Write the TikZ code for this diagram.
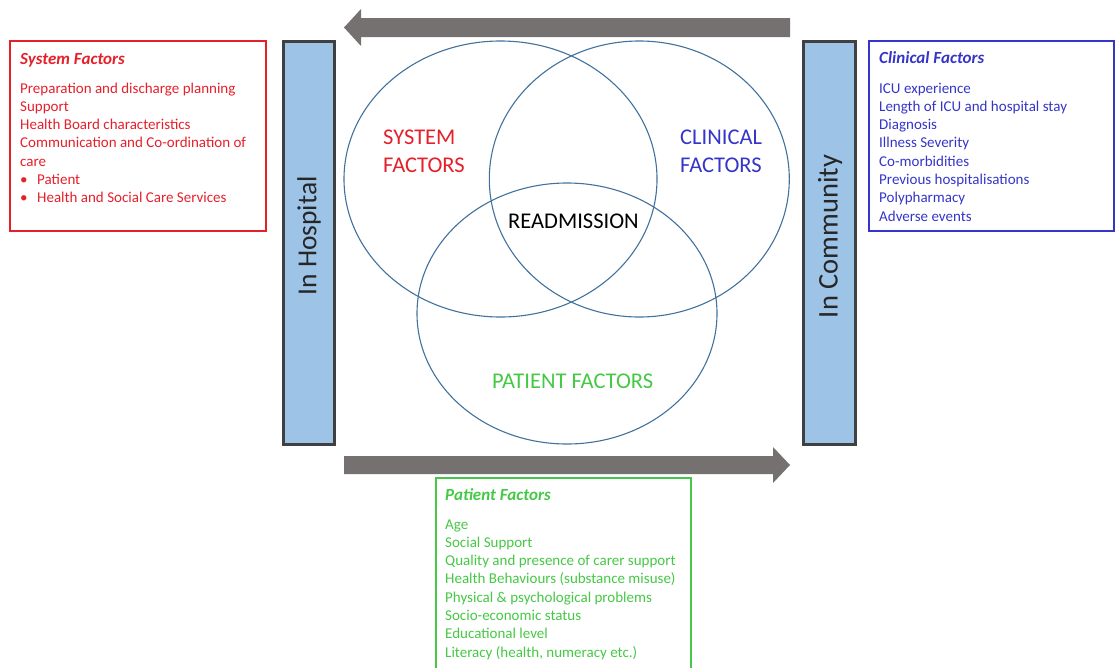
\documentclass[tikz,border=0pt]{standalone}
\usepackage{fontspec}
\setmainfont{Carlito}
\usetikzlibrary{shapes.geometric}
\definecolor{sysred}{HTML}{E5202A}
\definecolor{clinblue}{HTML}{3535C8}
\definecolor{patgreen}{HTML}{45C845}
\definecolor{arrowgray}{HTML}{767171}
\definecolor{barblue}{HTML}{9DC3E6}
\definecolor{bardark}{HTML}{404040}
\definecolor{vennline}{HTML}{41719C}
\begin{document}
\begin{tikzpicture}[x=1pt,y=-1pt,
  item/.style={anchor=base west,inner sep=0pt,font=\fontsize{15}{18}\selectfont},
  ttl/.style={anchor=base west,inner sep=0pt,font=\fontsize{17}{20}\selectfont\bfseries\itshape},
  frame/.style={draw,line width=2.2pt},
  bar/.style={draw=bardark,fill=barblue,line width=3pt},
  bartext/.style={rotate=90,inner sep=0pt,font=\fontsize{27.5}{30}\selectfont,text=black!85},
  venn/.style={draw=vennline,line width=1.1pt,ellipse,inner sep=0pt},
  venntext/.style={anchor=base west,inner sep=0pt,align=left,font=\fontsize{22.5}{28}\selectfont},
  blockarrow/.style={fill=arrowgray,draw=none}]
\useasboundingbox (0,0) rectangle (1115,667);
\clip (0,0) rectangle (1115,667);

% block arrows
\fill[blockarrow] (790,18) -- (361,18) -- (361,9) -- (344,27.5) -- (361,46) -- (361,37) -- (790,37) -- cycle;
\fill[blockarrow] (344,456) -- (773,456) -- (773,447) -- (790,465) -- (773,483) -- (773,474) -- (344,474) -- cycle;

% bars
\draw[bar] (283,41.5) rectangle (334.5,444.5);
\node[bartext] (hosp) at (309,236) {In Hospital};
\draw[bar] (803.5,41.5) rectangle (855.5,444.5);
\node[bartext,font=\fontsize{28.5}{30}\selectfont] (comm) at (830,236.5) {In Community};

% venn
\node[venn,minimum width=313pt,minimum height=276pt] (sysc) at (500.5,179) {};
\node[venn,minimum width=300pt,minimum height=276pt] (clinc) at (639.3,179) {};
\node[venn,minimum width=300pt,minimum height=261pt] (patc) at (567,313.5) {};
\node[venntext,text=sysred] (syst) at (383,172) {SYSTEM\\FACTORS};
\node[venntext,text=clinblue] (clint) at (680,172) {CLINICAL\\FACTORS};
\node[venntext,text=black] (readm) at (508,228) {READMISSION};
\node[venntext,text=patgreen] (patt) at (492,388) {PATIENT FACTORS};

% system factors box
\draw[frame,draw=sysred] (10,41) rectangle (266,231);
\node[ttl,text=sysred] (systitle) at (20,64) {System Factors};
\foreach \t [count=\i from 0] in {Preparation and discharge planning, Support, Health Board characteristics, Communication and Co-ordination of, care}
  \node[item,text=sysred] (sysl\i) at (20,93+\i*18.3) {\t};
\node[item,text=sysred] (sysb1) at (20,184.5) {•};
\node[item,text=sysred] (sysp) at (37,184.5) {Patient};
\node[item,text=sysred] (sysb2) at (20,202.8) {•};
\node[item,text=sysred] (syshs) at (37,202.8) {Health and Social Care Services};

% clinical factors box
\draw[frame,draw=clinblue] (869,41) rectangle (1114,231);
\node[ttl,text=clinblue] (clintitle) at (879,63) {Clinical Factors};
\foreach \t [count=\i from 0] in {ICU experience, Length of ICU and hospital stay, Diagnosis, Illness Severity, Co-morbidities, Previous hospitalisations, Polypharmacy, Adverse events}
  \node[item,text=clinblue] (clinl\i) at (879,93+\i*18.3) {\t};

% patient factors box
\draw[frame,draw=patgreen] (436,478) rectangle (691,672);
\node[ttl,text=patgreen] (pattitle) at (445,500) {Patient Factors};
\foreach \t [count=\i from 0] in {Age, Social Support, Quality and presence of carer support, Health Behaviours (substance misuse), Physical \& psychological problems, Socio-economic status, Educational level, {Literacy (health, numeracy etc.)}}
  \node[item,text=patgreen] (patl\i) at (445,529+\i*18.3) {\t};
\end{tikzpicture}
\end{document}
